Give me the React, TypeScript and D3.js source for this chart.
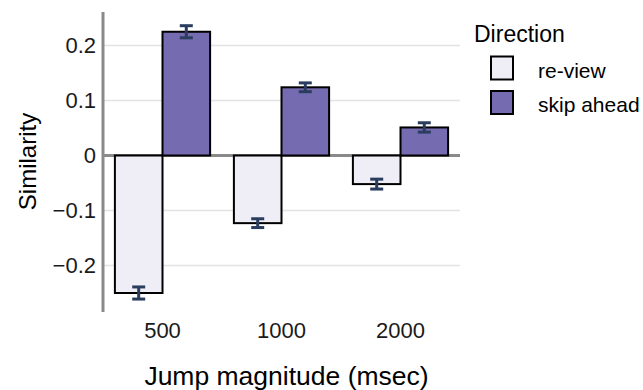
import React from "react";
import * as d3 from "d3";

// Mean similarity by jump magnitude and direction, with standard-error bars
const categories = ["500", "1000", "2000"];
const directions = ["re-view", "skip ahead"];
const reviewValues = [-0.25, -0.123, -0.052];
const skipValues = [0.225, 0.124, 0.051];
const reviewErrors = [0.011, 0.008, 0.009];
const skipErrors = [0.011, 0.008, 0.0085];
const yTicks = [-0.2, -0.1, 0, 0.1, 0.2];
const fills = ["#efedf5", "#756bb1"];

const W = 643;
const H = 390;
const panel = { left: 103, right: 460, top: 12, bottom: 312 };
const font = "'Liberation Sans', Arial, sans-serif";

export default function App() {
  const y = d3.scaleLinear().domain([0, 0.1]).range([155.5, 100.5]);
  const x = d3
    .scaleBand<string>()
    .domain(categories)
    .range([panel.left, panel.right])
    .paddingInner(0.2)
    .paddingOuter(0.1);
  const sub = d3.scaleBand<string>().domain(directions).range([0, x.bandwidth()]);

  const rows = categories.flatMap((c, i) => [
    { c, dir: directions[0], v: reviewValues[i], e: reviewErrors[i], fill: fills[0] },
    { c, dir: directions[1], v: skipValues[i], e: skipErrors[i], fill: fills[1] },
  ]);

  const fmt = (t: number) => (t === 0 ? "0" : d3.format(".1f")(t).replace("-", "\u2212"));

  return (
    <svg width={W} height={H} style={{ position: "absolute", left: 0, top: 0 }}>
      <rect width={W} height={H} fill="#fff" />
      {/* grid */}
      {yTicks.map((t) => (
        <line
          key={t}
          x1={panel.left}
          x2={panel.right}
          y1={y(t)}
          y2={y(t)}
          stroke="#e3e3e3"
          strokeWidth={1.5}
        />
      ))}
      {/* zero line */}
      <line x1={panel.left} x2={panel.right} y1={y(0)} y2={y(0)} stroke="#8a8a8a" strokeWidth={3} />
      {/* bars */}
      {rows.map((r) => {
        const bx = (x(r.c) ?? 0) + (sub(r.dir) ?? 0);
        const y0 = y(Math.max(0, r.v));
        const y1 = y(Math.min(0, r.v));
        return (
          <rect
            key={r.c + r.dir}
            x={bx}
            y={y0}
            width={sub.bandwidth()}
            height={y1 - y0}
            fill={r.fill}
            stroke="#000"
            strokeWidth={2}
          />
        );
      })}
      {/* error bars */}
      {rows.map((r) => {
        const cx = (x(r.c) ?? 0) + (sub(r.dir) ?? 0) + sub.bandwidth() / 2;
        const hw = 6.5;
        return (
          <g key={"e" + r.c + r.dir} stroke="#2b3d5e" strokeWidth={3}>
            <line x1={cx} x2={cx} y1={y(r.v - r.e)} y2={y(r.v + r.e)} />
            <line x1={cx - hw} x2={cx + hw} y1={y(r.v - r.e)} y2={y(r.v - r.e)} />
            <line x1={cx - hw} x2={cx + hw} y1={y(r.v + r.e)} y2={y(r.v + r.e)} />
          </g>
        );
      })}
      {/* y axis */}
      <line x1={panel.left} x2={panel.left} y1={panel.top} y2={panel.bottom} stroke="#8a8a8a" strokeWidth={3} />
      {yTicks.map((t) => (
        <text
          key={"t" + t}
          x={96}
          y={y(t)}
          dy="0.35em"
          textAnchor="end"
          fontFamily={font}
          fontSize={22}
          fill="#1a1a1a"
        >
          {fmt(t)}
        </text>
      ))}
      {categories.map((c) => (
        <text
          key={"x" + c}
          x={(x(c) ?? 0) + x.bandwidth() / 2}
          y={337.5}
          textAnchor="middle"
          fontFamily={font}
          fontSize={22}
          fill="#1a1a1a"
        >
          {c}
        </text>
      ))}
      <text
        transform={`translate(36,161.5) rotate(-90)`}
        textAnchor="middle"
        fontFamily={font}
        fontSize={24}
        fill="#000"
      >
        Similarity
      </text>
      <text x={286.5} y={385} textAnchor="middle" fontFamily={font} fontSize={26.5} fill="#000">
        Jump magnitude (msec)
      </text>
      {/* legend */}
      <text x={474} y={42} fontFamily={font} fontSize={23} fill="#000">
        Direction
      </text>
      {directions.map((d, i) => (
        <g key={"l" + d} transform={`translate(0,${i * 34.5})`}>
          <rect x={491} y={56.5} width={22} height={23} fill={fills[i]} stroke="#000" strokeWidth={2} />
          <text x={538} y={77.5} fontFamily={font} fontSize={21} fill="#000">
            {d}
          </text>
        </g>
      ))}
    </svg>
  );
}
